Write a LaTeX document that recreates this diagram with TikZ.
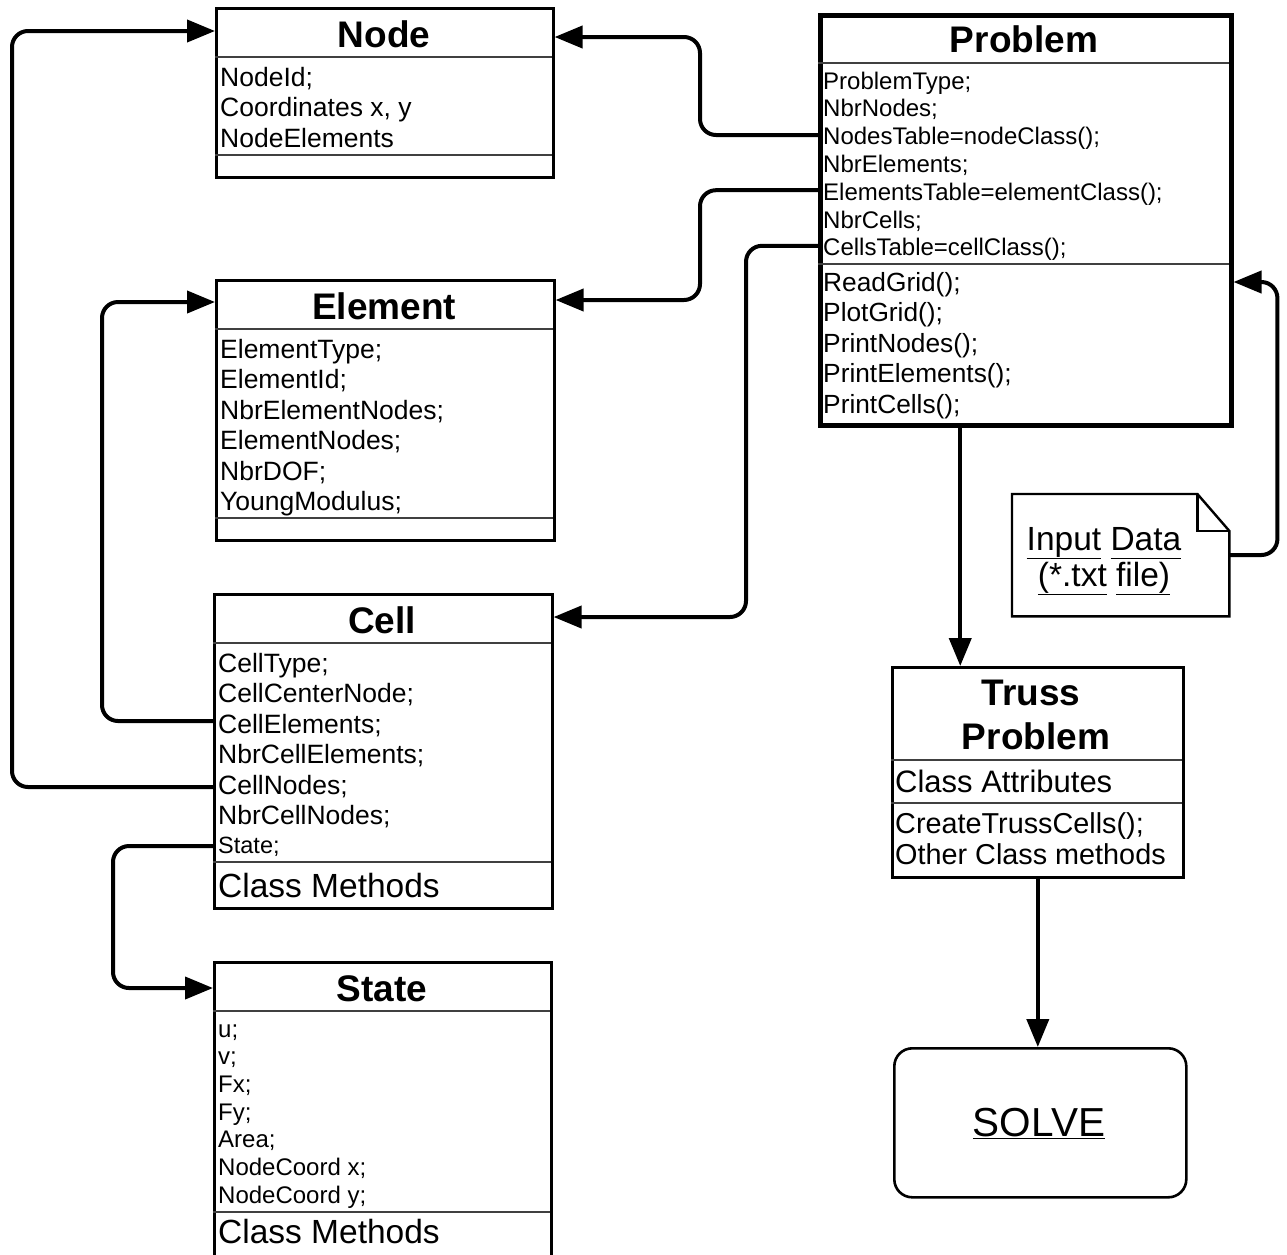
\documentclass[tikz,border=0pt]{standalone}
\usepackage{fontspec}
\setmainfont{Liberation Sans}
\usetikzlibrary{arrows.meta,calc}
\newcommand\fsz[1]{\fontsize{#1}{#1}\selectfont}
\newcommand\ulw[1]{\underline{\vphantom{(p}#1}}

\begin{document}
\begin{tikzpicture}[x=1pt,y=-1pt,
  box/.style={draw, line width=2.6pt, inner sep=0, anchor=north west},
  thickbox/.style={box, line width=4.5pt},
  sep/.style={line width=1.4pt, draw=black!75},
  ttl/.style={inner sep=0, anchor=base, font=\bfseries\fsz{37}},
  txt/.style={inner sep=0, anchor=base west},
  conn/.style={line width=4pt, rounded corners=16pt, -{Triangle[length=28pt,width=22pt]}},
]
\useasboundingbox (0,0) rectangle (1287,1254);

% ---------- class Node ----------
\node[box, minimum width=337, minimum height=169] (node) at (215,7) {};
\draw[sep] (215,57) -- (552,57);
\draw[sep] (215,155) -- (552,155);
\node[ttl] (node-t) at (384,47) {Node};
\foreach \t [count=\i from 0] in {{NodeId;},{Coordinates x, y},{NodeElements}}
  \node[txt, font=\fsz{26.5}] (nd\i) at (220,86+30.5*\i) {\t};

% ---------- class Element ----------
\node[box, minimum width=338, minimum height=260] (elem) at (215,279) {};
\draw[sep] (215,329) -- (553,329);
\draw[sep] (215,518) -- (553,518);
\node[ttl] (elem-t) at (384,319) {Element};
\foreach \t [count=\i from 0] in {{ElementType;},{ElementId;},{NbrElementNodes;},{ElementNodes;},{NbrDOF;},{YoungModulus;}}
  \node[txt, font=\fsz{26.5}] (el\i) at (220,358+30.5*\i) {\t};

% ---------- class Cell ----------
\node[box, minimum width=338, minimum height=314] (cell) at (213,593) {};
\draw[sep] (213,643) -- (551,643);
\draw[sep] (213,862) -- (551,862);
\node[ttl] (cell-t) at (382,633) {Cell};
\foreach \t [count=\i from 0] in {{CellType;},{CellCenterNode;},{CellElements;},{NbrCellElements;},{CellNodes;},{NbrCellNodes;}}
  \node[txt, font=\fsz{26.5}] (ce\i) at (218,672+30.5*\i) {\t};
\node[txt, font=\fsz{23.5}] (ce6) at (218,853) {State;};
\node[txt, font=\fsz{33.5}] (ce-m) at (218,897) {Class Methods};

% ---------- class State ----------
\node[box, minimum width=337, minimum height=310] (state) at (213,961) {};
\draw[sep] (213,1011) -- (550,1011);
\draw[sep] (213,1212) -- (550,1212);
\node[ttl] (state-t) at (382,1001) {State};
\foreach \t [count=\i from 0] in {{u;},{v;},{Fx;},{Fy;},{Area;},{NodeCoord x;},{NodeCoord y;}}
  \node[txt, font=\fsz{24}] (st\i) at (218,1037+27.7*\i) {\t};
\node[txt, font=\fsz{33.5}] (st-m) at (218,1243) {Class Methods};

% ---------- class Problem ----------
\node[thickbox, minimum width=411, minimum height=410] (prob) at (818,13) {};
\draw[sep] (818,63) -- (1229,63);
\draw[sep] (818,264) -- (1229,264);
\node[ttl] (prob-t) at (1024,52) {Problem};
\foreach \t [count=\i from 0] in {{ProblemType;},{NbrNodes;},{NodesTable=nodeClass();},{NbrElements;},{ElementsTable=elementClass();},{NbrCells;},{CellsTable=cellClass();}}
  \node[txt, font=\fsz{24}] (pa\i) at (823,89+27.8*\i) {\t};
\foreach \t [count=\i from 0] in {{ReadGrid();},{PlotGrid();},{PrintNodes();},{PrintElements();},{PrintCells();}}
  \node[txt, font=\fsz{26.3}] (pm\i) at (823,291+30.5*\i) {\t};

% ---------- class Truss Problem ----------
\node[box, minimum width=291, minimum height=210] (truss) at (891,666) {};
\draw[sep] (891,760) -- (1182,760);
\draw[sep] (891,803) -- (1182,803);
\node[ttl] (truss-t1) at (1031,705) {Truss};
\node[ttl] (truss-t2) at (1036,749) {Problem};
\node[txt, font=\fsz{31}] (tr-a) at (895,792) {Class Attributes};
\node[txt, font=\fsz{28.8}] (tr-m1) at (895,833) {CreateTrussCells();};
\node[txt, font=\fsz{28.8}] (tr-m2) at (895,864) {Other Class methods};

% ---------- input data file ----------
\node[inner sep=0, minimum width=217, minimum height=122, anchor=north west] (inp) at (1012,494) {};
\draw[line width=2.4pt, line join=miter]
  (inp.north west) -- ([xshift=-32pt]inp.north east) -- ([yshift=-37pt]inp.north east)
  -- (inp.south east) -- (inp.south west) -- cycle;
\draw[line width=2.4pt]
  ([xshift=-32pt]inp.north east) -- ([xshift=-32pt,yshift=-37pt]inp.north east)
  -- ([yshift=-37pt]inp.north east);
\node[inner sep=0, anchor=base, font=\fsz{33.5}] (inp-1) at (1104,550) {\ulw{Input} \ulw{Data}};
\node[inner sep=0, anchor=base, font=\fsz{33.5}] (inp-2) at (1104,586) {\ulw{(*.txt} \ulw{file)}};

% ---------- solve step ----------
\node[draw, line width=2.6pt, rounded corners=18pt, inner sep=0,
      minimum width=292, minimum height=149, anchor=north west] (solve) at (893,1047) {};
\node[inner sep=0, anchor=base, font=\fsz{40.5}] (solve-t) at (1039,1136) {\underline{SOLVE}};

% ---------- connectors ----------
\draw[conn] ([yshift=9.6pt]pa2.base west -| prob.west) -- ++(-118,0)
  |- ([yshift=-30pt]node.north east);
\draw[conn] ([yshift=10pt]pa4.base west -| prob.west) -- ++(-118,0)
  |- ([yshift=-21pt]elem.north east);
\draw[conn] ([yshift=10pt]pa6.base west -| prob.west) -- ++(-72,0)
  |- ([yshift=-24pt]cell.north east);
\draw[conn] ([yshift=12pt]ce2.base west -| cell.west) -- ++(-111,0)
  |- ([yshift=-23pt]elem.north west);
\draw[conn] ([yshift=7pt]ce4.base west -| cell.west) -- ++(-201,0)
  |- ([yshift=-24pt]node.north west);
\draw[conn] ([yshift=7pt]ce6.base west -| cell.west) -- ++(-100,0)
  |- ([yshift=-27pt]state.north west);
\draw[conn] ([xshift=-65.5pt]prob.south) coordinate (pq) -- (pq |- truss.north);
\draw[conn] (truss.south) -- (truss.south |- solve.north);
\draw[conn] ([yshift=-61pt]inp.north east) -- ++(48,0)
  |- ([yshift=-269pt]prob.north east);
\end{tikzpicture}
\end{document}
